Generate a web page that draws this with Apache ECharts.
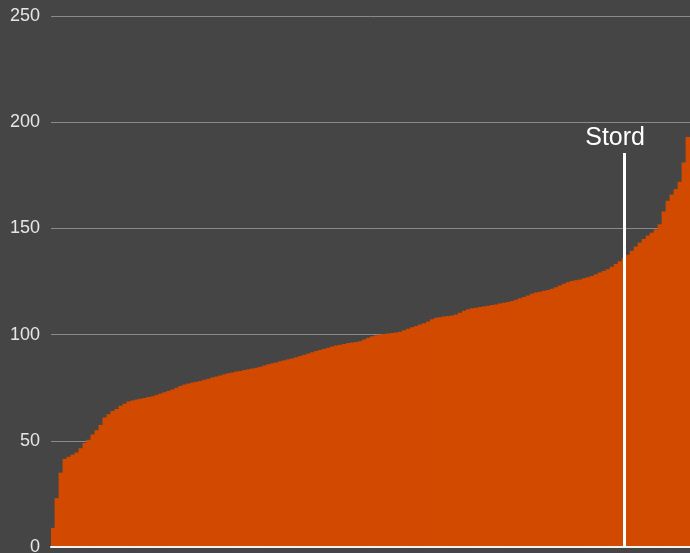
<!DOCTYPE HTML>
<html>
<head>
    <meta charset="utf-8">
    <title>Stord</title>
    <script type="text/javascript" src="https://cdn.jsdelivr.net/npm/echarts@6/dist/echarts.min.js"></script>
</head>
<body style="padding:0px;margin:0px;background:#454545;">
    <div id="main" style="width:690px;height:553px;padding:0px;margin:0px;"></div>
    <script type="text/javascript">
        // verdiar lest av biletet, sortert stigande
        var values = [
            9, 23, 35, 41.5, 42.5, 43.5, 44.5, 46.5, 49, 50.5,
            53, 55, 57.5, 61, 62.5, 64, 65, 66.5, 67.5, 68.5,
            69, 69.5, 69.8, 70.2, 70.6, 71, 71.6, 72.3, 72.9, 73.5,
            74.2, 75, 75.8, 76.5, 77, 77.4, 77.8, 78.2, 78.7, 79.2,
            79.8, 80.3, 80.8, 81.3, 81.8, 82.2, 82.6, 82.9, 83.3, 83.7,
            84, 84.4, 84.9, 85.5, 86, 86.5, 86.9, 87.4, 87.9, 88.4,
            88.8, 89.3, 89.9, 90.5, 91.1, 91.7, 92.3, 92.8, 93.3, 93.8,
            94.4, 94.9, 95.2, 95.6, 96, 96.3, 96.5, 96.9, 97.7, 98.5,
            99.2, 99.7, 100, 100.3, 100.5, 100.7, 101, 101.3, 102, 102.8,
            103.5, 104, 104.7, 105.3, 106.2, 107.2, 107.9, 108.2, 108.5, 108.8,
            109, 109.5, 110.3, 111.2, 111.9, 112.4, 112.7, 113, 113.3, 113.6,
            113.9, 114.2, 114.6, 115, 115.4, 115.8, 116.4, 117.1, 117.7, 118.4,
            119.2, 119.8, 120.2, 120.6, 121, 121.6, 122.3, 123.1, 123.9, 124.6,
            125.2, 125.6, 126, 126.5, 127, 127.6, 128.4, 129.2, 130, 130.8,
            131.9, 133.2, 134.5, 136, 137.6, 139.5, 141.5, 143.4, 145, 146.7,
            148, 149.5, 152, 158, 163, 166, 168.5, 172, 181, 193
        ];
        var stordIndex = 143;
        var stordLineTop = 185.5;
        var yTicks = [0, 50, 100, 150, 200, 250];

        var categories = [];
        for (var i = 0; i < values.length; i++) {
            categories.push(i === stordIndex ? 'Stord' : String(i + 1));
        }

        var myChart = echarts.init(document.getElementById('main'));

        var option = {
            animation: false,
            backgroundColor: '#454545',
            grid: { left: 51, right: 0, top: 16, bottom: 6, containLabel: false, outerBoundsMode: 'none' },
            xAxis: {
                type: 'category',
                data: categories,
                axisTick: { show: false },
                axisLabel: { show: false },
                axisLine: { lineStyle: { color: '#f2f2f2', width: 2 } },
                z: 5
            },
            yAxis: {
                type: 'value',
                min: yTicks[0],
                max: yTicks[yTicks.length - 1],
                interval: 50,
                axisLine: { show: false },
                axisTick: { show: false },
                axisLabel: {
                    color: '#e6e6e6',
                    fontSize: 18,
                    fontFamily: 'Liberation Sans, Arial, sans-serif',
                    margin: 11
                },
                splitLine: { lineStyle: { color: '#8a8a8a', width: 1 } }
            },
            series: [
                {
                    type: 'bar',
                    data: values,
                    barWidth: 4.8,   // litt overlapp, så det ikkje blir striper mellom søylene
                    itemStyle: { color: '#d14a00' },
                    markLine: {
                        silent: true,
                        symbol: ['none', 'none'],
                        lineStyle: { color: '#ffffff', width: 3, type: 'solid' },
                        label: {
                            show: true,
                            position: 'end',
                            formatter: 'Stord',
                            color: '#ffffff',
                            fontSize: 25,
                            fontFamily: 'Liberation Sans, Arial, sans-serif',
                            offset: [-9, 3]
                        },
                        data: [
                            [
                                { coord: [stordIndex, 0] },
                                { coord: [stordIndex, stordLineTop] }
                            ]
                        ]
                    }
                }
            ]
        };
        myChart.setOption(option);
    </script>
</body>
</html>
